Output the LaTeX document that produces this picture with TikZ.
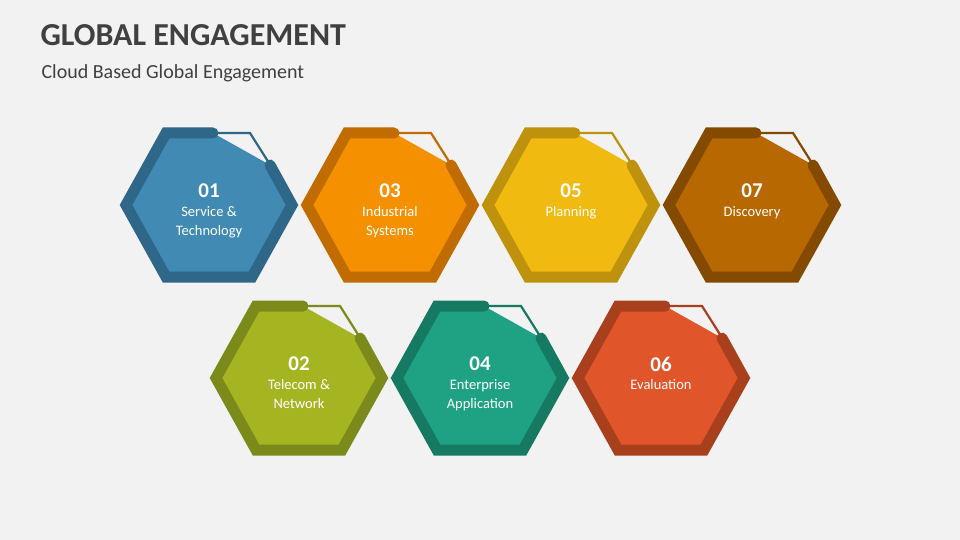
\documentclass[tikz,border=0pt]{standalone}
\usepackage{fontspec}
\setmainfont{Carlito}
\begin{document}
\begin{tikzpicture}[x=1pt,y=-1pt,
  num/.style={text=white,font=\bfseries\fontsize{21}{22}\selectfont},
  lbl/.style={text=white,font=\fontsize{14.5}{19}\selectfont,align=center}]
\fill[gray!10!white] (0,0) rectangle (960,540);
\useasboundingbox (0,0) rectangle (960,540);
\node[anchor=west,text=black!75,font=\bfseries\fontsize{32}{34}\selectfont] (title) at (37,35) {GLOBAL ENGAGEMENT};
\node[anchor=west,text=black!75,font=\fontsize{20}{22}\selectfont] (sub) at (38,73) {Cloud Based Global Engagement};
\newcommand{\hexa}[7]{%
 \begin{scope}[shift={(#1,#2)}]
  \fill[#3] (4,-72) -- (-43,-72) -- (-83,0) -- (-43,72) -- (43,72) -- (83,0) -- (61,-40) -- cycle;
  \draw[#4,line width=11pt,line cap=round,line join=miter] (4,-72) -- (-43,-72) -- (-83,0) -- (-43,72) -- (43,72) -- (83,0) -- (61,-40);
  \draw[#4,line width=2.2pt] (4,-72) -- (41,-72) -- (60,-42);
  \node[num] (n#5) at (0,-14) {#5};
  \node[lbl,anchor=north] (l#5) at (0,-2) {#6};
 \end{scope}}
\definecolor{f1}{HTML}{418AB3}\definecolor{b1}{HTML}{2E6787}
\definecolor{f3}{HTML}{F59100}\definecolor{b3}{HTML}{C06C00}
\definecolor{f5}{HTML}{F0BA10}\definecolor{b5}{HTML}{BE920C}
\definecolor{f7}{HTML}{B86800}\definecolor{b7}{HTML}{844B00}
\definecolor{f2}{HTML}{A5B522}\definecolor{b2}{HTML}{7B8A1A}
\definecolor{f4}{HTML}{1FA284}\definecolor{b4}{HTML}{167A62}
\definecolor{f6}{HTML}{E0552A}\definecolor{b6}{HTML}{A8401E}
\hexa{209}{205}{f1}{b1}{01}{Service \&\\Technology}{}
\hexa{390}{205}{f3}{b3}{03}{Industrial\\Systems}{}
\hexa{571}{205}{f5}{b5}{05}{Planning}{}
\hexa{752}{205}{f7}{b7}{07}{Discovery}{}
\hexa{299}{378}{f2}{b2}{02}{Telecom \&\\Network}{}
\hexa{480}{378}{f4}{b4}{04}{Enterprise\\Application}{}
\hexa{661}{378}{f6}{b6}{06}{Evaluation}{}
\end{tikzpicture}
\end{document}
